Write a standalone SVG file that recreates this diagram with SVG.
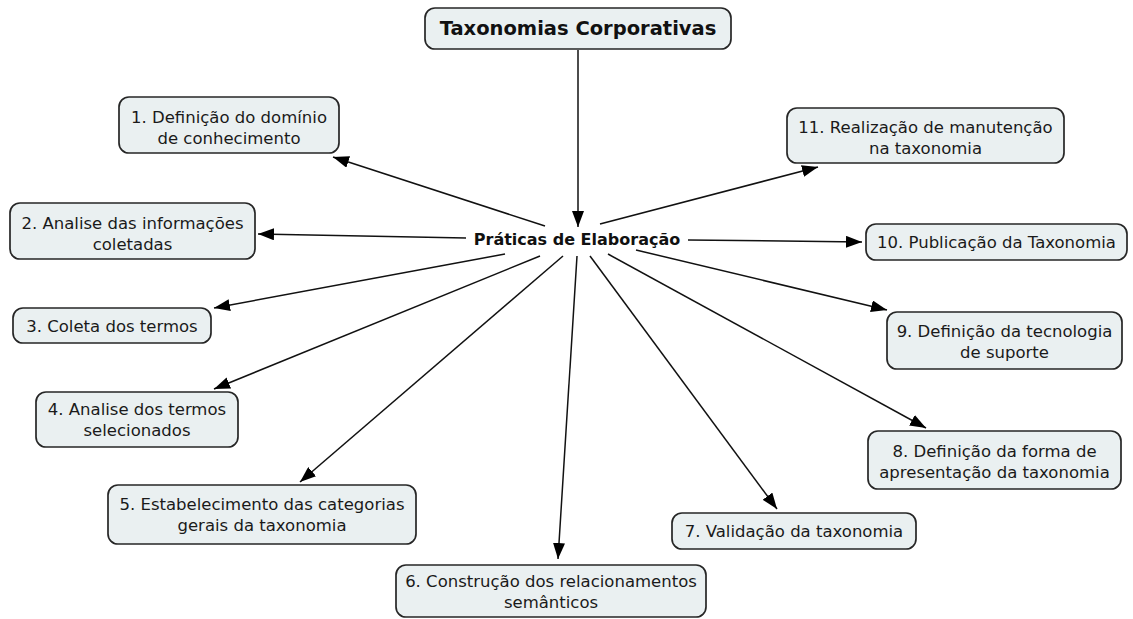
<svg xmlns="http://www.w3.org/2000/svg" width="1133" height="619" viewBox="0 0 1133 619">
  <style>
    .box { fill: #eaf0f1; stroke: #262626; stroke-width: 1.7; }
    .lbl { font-family: "DejaVu Sans", Verdana, sans-serif; font-size: 16.5px; fill: #1a1a1a; text-anchor: middle; }
    .title { font-family: "DejaVu Sans", Verdana, sans-serif; font-size: 19.5px; font-weight: bold; fill: #111; text-anchor: middle; }
    .hub { font-family: "DejaVu Sans", Verdana, sans-serif; font-size: 16px; font-weight: bold; fill: #111; text-anchor: middle; }
    .edge { stroke: #111; stroke-width: 1.5; fill: none; marker-end: url(#arrow); }
  </style>
  <defs>
    <marker id="arrow" viewBox="0 0 16 12" refX="16" refY="6" markerWidth="16" markerHeight="12" markerUnits="userSpaceOnUse" orient="auto">
      <path d="M0,0 L16,6 L0,12 Z" fill="#000"/>
    </marker>
  </defs>
  <rect width="1133" height="619" fill="#fff"/>

  <!-- spokes from the central label to each step -->
  <g id="connectors">
    <line class="edge" x1="578" y1="50" x2="578" y2="227"/>
    <line class="edge" x1="545" y1="226" x2="333" y2="157"/>
    <line class="edge" x1="466" y1="238" x2="258" y2="234"/>
    <line class="edge" x1="505" y1="254" x2="214" y2="308"/>
    <line class="edge" x1="540" y1="256" x2="214" y2="389"/>
    <line class="edge" x1="563" y1="256" x2="300" y2="482"/>
    <line class="edge" x1="577" y1="256" x2="558" y2="559"/>
    <line class="edge" x1="590" y1="256" x2="777" y2="509"/>
    <line class="edge" x1="608" y1="254" x2="926" y2="428"/>
    <line class="edge" x1="636" y1="250" x2="887" y2="310"/>
    <line class="edge" x1="688" y1="240" x2="862" y2="242"/>
    <line class="edge" x1="600" y1="224" x2="818" y2="167"/>
  </g>

  <g id="root">
    <rect class="box" x="425" y="8" width="306" height="41" rx="10"/>
    <text class="title" x="578" y="35">Taxonomias Corporativas</text>
  </g>

  <g id="hub">
    <text class="hub" x="577" y="245">Práticas de Elaboração</text>
  </g>

  <g id="n1">
    <rect class="box" x="119" y="97" width="220" height="56" rx="10"/>
    <text class="lbl" x="229" y="123">1. Definição do domínio</text>
    <text class="lbl" x="229" y="144">de conhecimento</text>
  </g>

  <g id="n2">
    <rect class="box" x="10" y="203" width="245" height="56" rx="10"/>
    <text class="lbl" x="132.5" y="229">2. Analise das informações</text>
    <text class="lbl" x="132.5" y="250">coletadas</text>
  </g>

  <g id="n3">
    <rect class="box" x="13" y="308" width="198" height="35" rx="10"/>
    <text class="lbl" x="112" y="331.5">3. Coleta dos termos</text>
  </g>

  <g id="n4">
    <rect class="box" x="36" y="392" width="202" height="55" rx="10"/>
    <text class="lbl" x="137" y="415">4. Analise dos termos</text>
    <text class="lbl" x="137" y="436">selecionados</text>
  </g>

  <g id="n5">
    <rect class="box" x="108" y="485" width="308" height="59" rx="10"/>
    <text class="lbl" x="262" y="510">5. Estabelecimento das categorias</text>
    <text class="lbl" x="262" y="531">gerais da taxonomia</text>
  </g>

  <g id="n6">
    <rect class="box" x="396" y="565" width="310" height="52" rx="10"/>
    <text class="lbl" x="551" y="587">6. Construção dos relacionamentos</text>
    <text class="lbl" x="551" y="608">semânticos</text>
  </g>

  <g id="n7">
    <rect class="box" x="672" y="513" width="244" height="36" rx="10"/>
    <text class="lbl" x="794" y="537">7. Validação da taxonomia</text>
  </g>

  <g id="n8">
    <rect class="box" x="868" y="431" width="253" height="58" rx="10"/>
    <text class="lbl" x="994.5" y="457">8. Definição da forma de</text>
    <text class="lbl" x="994.5" y="478">apresentação da taxonomia</text>
  </g>

  <g id="n9">
    <rect class="box" x="887" y="312" width="235" height="57" rx="10"/>
    <text class="lbl" x="1004.5" y="337">9. Definição da tecnologia</text>
    <text class="lbl" x="1004.5" y="358">de suporte</text>
  </g>

  <g id="n10">
    <rect class="box" x="866" y="224" width="261" height="36" rx="10"/>
    <text class="lbl" x="996.5" y="248">10. Publicação da Taxonomia</text>
  </g>

  <g id="n11">
    <rect class="box" x="787" y="108" width="277" height="55" rx="10"/>
    <text class="lbl" x="925.5" y="133">11. Realização de manutenção</text>
    <text class="lbl" x="925.5" y="154">na taxonomia</text>
  </g>
</svg>
